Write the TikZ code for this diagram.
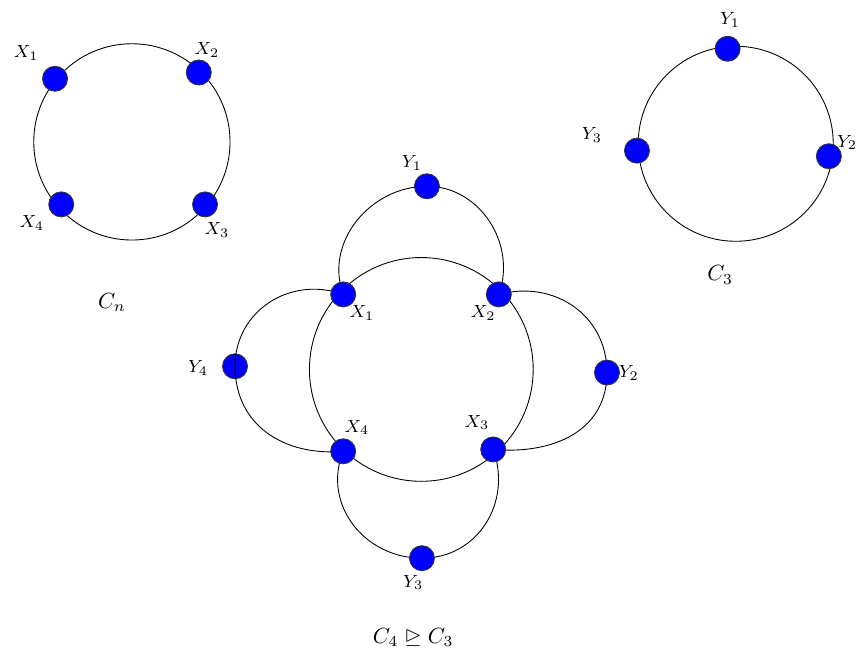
\documentclass[tikz,border=0pt]{standalone}
\usepackage{amsmath}
\usepackage{amssymb}
\usepackage{tikz}
\usetikzlibrary{backgrounds}
\definecolor{vblue}{RGB}{0,0,255}

\begin{document}
\begin{tikzpicture}[
  vertex/.style={circle, fill=vblue, draw=black!80, inner sep=0pt, minimum size=0.4cm},
  lbl/.style={font=\footnotesize, inner sep=0pt},
  captext/.style={inner sep=0pt},
  petal/.style={looseness=1.1}]
\useasboundingbox (0,0) rectangle (13.71,10.42);
% C_n
\draw (2.11,8.15) circle (1.57);
\node[vertex] (a1) at (0.88,9.16) {};
\node[vertex] (a2) at (3.18,9.26) {};
\node[vertex] (a3) at (3.28,7.15) {};
\node[vertex] (a4) at (0.98,7.15) {};
\node[lbl] (la1) at (0.42,9.57) {$X_1$};
\node[lbl] (la2) at (3.31,9.62) {$X_2$};
\node[lbl] (la3) at (3.47,6.74) {$X_3$};
\node[lbl] (la4) at (0.51,6.85) {$X_4$};
\node[captext] (capn) at (1.79,5.58) {$C_n$};
% C_3
\draw (11.77,8.12) circle (1.56);
\node[vertex] (d1) at (11.64,9.64) {};
\node[vertex] (d2) at (13.26,7.92) {};
\node[vertex] (d3) at (10.19,8.01) {};
\node[lbl] (ld1) at (11.68,10.10) {$Y_1$};
\node[lbl] (ld2) at (13.55,8.14) {$Y_2$};
\node[lbl] (ld3) at (9.47,8.26) {$Y_3$};
\node[captext] (cap3) at (11.52,6.02) {$C_3$};
% C_4 with C_3 glued on
\node[vertex] (b1) at (5.49,5.71) {};
\node[vertex] (b2) at (7.98,5.71) {};
\node[vertex] (b3) at (7.89,3.23) {};
\node[vertex] (b4) at (5.49,3.20) {};
\node[vertex] (c1) at (6.83,7.44) {};
\node[vertex] (c2) at (9.71,4.46) {};
\node[vertex] (c3) at (6.75,1.49) {};
\begin{scope}[on background layer]
\draw (6.74,4.51) circle (1.79);
\node[vertex] (c4) at (3.76,4.56) {};
\draw[petal,looseness=1.05] (b1.center) to[out=110,in=180] (c1.center) to[out=0,in=70] (b2.center);
\draw[petal] (b2.center) to[out=15,in=90] (c2.center) to[out=270,in=-5] (b3.center);
\draw[petal] (b4.center) to[out=248,in=180] (c3.center) to[out=0,in=290] (b3.center);
\draw[petal] (b1.center) to[out=160,in=90] (c4.center) to[out=270,in=185] (b4.center);
\end{scope}
\node[lbl] (lb1) at (5.79,5.41) {$X_1$};
\node[lbl] (lb2) at (7.73,5.41) {$X_2$};
\node[lbl] (lb3) at (7.63,3.66) {$X_3$};
\node[lbl] (lb4) at (5.71,3.58) {$X_4$};
\node[lbl] (lc1) at (6.59,7.81) {$Y_1$};
\node[lbl] (lc2) at (10.06,4.45) {$Y_2$};
\node[lbl] (lc3) at (6.61,1.10) {$Y_3$};
\node[lbl] (lc4) at (3.17,4.53) {$Y_4$};
\node[captext] (cap43) at (6.61,0.22) {$C_4 \trianglerighteq C_3$};
\end{tikzpicture}
\end{document}
